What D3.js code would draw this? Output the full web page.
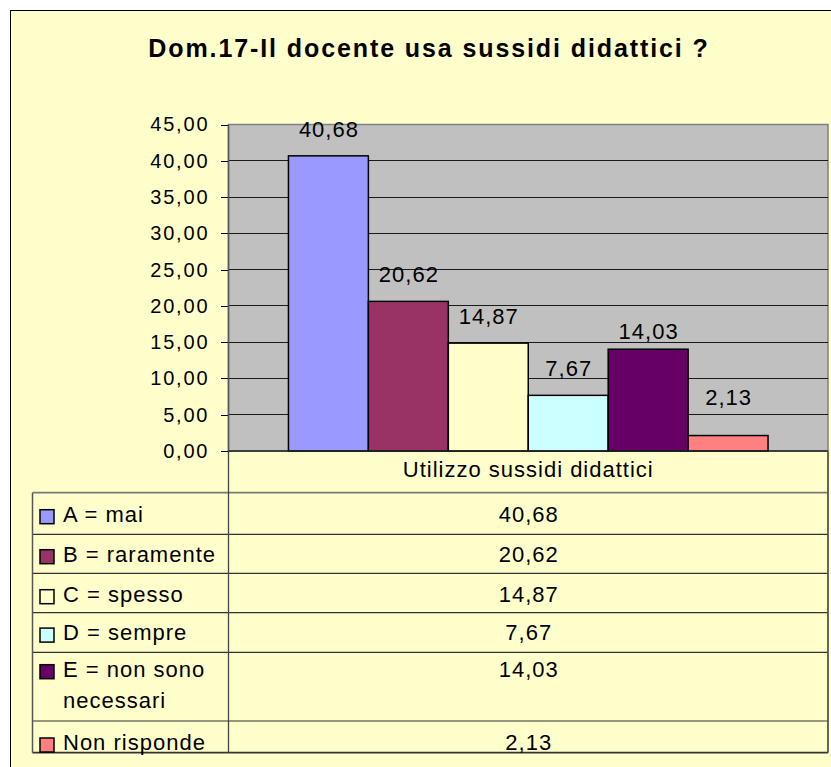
<!DOCTYPE html>
<html><head><meta charset="utf-8">
<script src="https://cdn.jsdelivr.net/npm/d3@7"></script>
<style>
html,body{margin:0;padding:0;background:#fff;}
svg{display:block;}
text{font-family:"Liberation Sans",Arial,Helvetica,sans-serif;fill:#000;}
</style></head><body>
<svg id="chart" width="831" height="767"></svg>
<script>
// ---- data ----
const chartTitle = "Dom.17-Il docente usa sussidi didattici ?";
const categories = ["Utilizzo sussidi didattici"];
const seriesNames = ["A = mai", "B = raramente", "C = spesso", "D = sempre", "E = non sono necessari", "Non risponde"];
const seriesValues = [40.68, 20.62, 14.87, 7.67, 14.03, 2.13];
const seriesColors = ["#9999FF", "#993366", "#FFFFCC", "#CCFFFF", "#660066", "#FF8080"];
const yTickValues = [0, 5, 10, 15, 20, 25, 30, 35, 40, 45];

// ---- layout ----
const plot = {left: 228.5, right: 828, top: 124.5, bottom: 451};
const table = {left: 32.5, col: 228.5, right: 828, top: 492.7};
const rowHeights = [41.6, 39, 39.4, 39.6, 68.7, 31.7];
const baseOffsets = [29, 27.4, 28.4, 27.4, 24.4, 29];
const lineH = 31.6;
const labelDy = [0, 0, 0, 0, 9, -12];

const locale = d3.formatLocale({decimal: ",", thousands: ".", grouping: [3], currency: ["€", ""]});
const fmt = locale.format(".2f");

const svg = d3.select("#chart");

// outer frame
svg.append("rect").attr("x", 10.5).attr("y", 10.5).attr("width", 900).attr("height", 900)
  .attr("fill", "#FFFFCC").attr("stroke", "#000").attr("stroke-width", 1);

// title
svg.append("text").attr("x", 429).attr("y", 56.7).attr("text-anchor", "middle")
  .style("font-size", "25px").style("font-weight", "bold").style("letter-spacing", "1.9px")
  .text(chartTitle);

// scales
const y = d3.scaleLinear().domain([0, 45]).range([plot.bottom, plot.top]);
const x0 = d3.scaleBand().domain(categories).range([plot.left, plot.right]).paddingInner(0).paddingOuter(0.125);
const x1 = d3.scaleBand().domain(seriesNames).range([0, x0.bandwidth()]);

// plot area
svg.append("rect").attr("x", plot.left).attr("y", plot.top)
  .attr("width", plot.right - plot.left).attr("height", plot.bottom - plot.top)
  .attr("fill", "#C0C0C0").attr("stroke", "#808080").attr("stroke-width", 1.5);

// gridlines
svg.append("g").selectAll("line").data(yTickValues.filter(v => v > 0 && v < 45)).join("line")
  .attr("x1", plot.left).attr("x2", plot.right)
  .attr("y1", d => y(d)).attr("y2", d => y(d))
  .attr("stroke", "#1a1a1a").attr("stroke-width", 1).attr("shape-rendering", "crispEdges");

// bars
const bars = svg.append("g");
seriesNames.forEach((name, i) => {
  const v = seriesValues[i];
  bars.append("rect")
    .attr("x", x0(categories[0]) + x1(name))
    .attr("y", y(v))
    .attr("width", x1.bandwidth())
    .attr("height", y(0) - y(v))
    .attr("fill", seriesColors[i])
    .attr("stroke", "#000").attr("stroke-width", 1.5);
  svg.append("text")
    .attr("x", x0(categories[0]) + x1(name) + x1.bandwidth() / 2 + 0.5)
    .attr("y", y(v) - 19 + labelDy[i])
    .attr("text-anchor", "middle")
    .style("font-size", "22px").style("letter-spacing", "1px")
    .text(fmt(v));
});

// y axis
const yAxis = d3.axisLeft(y).tickValues(yTickValues).tickSize(8).tickSizeOuter(0).tickPadding(11.2).tickFormat(fmt);
const ag = svg.append("g").attr("transform", `translate(${plot.left},0)`).call(yAxis);
ag.select(".domain").remove();
ag.selectAll(".tick line").attr("stroke", "#000").attr("shape-rendering", "crispEdges");
ag.selectAll(".tick text").style("font-size", "20px").style("letter-spacing", "1.8px")
  .style("font-family", "'Liberation Sans',Arial,sans-serif").attr("fill", "#000");

// axis lines
svg.append("line").attr("x1", plot.left).attr("x2", plot.left).attr("y1", plot.top).attr("y2", plot.bottom)
  .attr("stroke", "#555").attr("stroke-width", 1.5);
svg.append("line").attr("x1", plot.left).attr("x2", plot.right).attr("y1", plot.bottom).attr("y2", plot.bottom)
  .attr("stroke", "#222").attr("stroke-width", 1.5);

// data table
const rowTops = [table.top];
rowHeights.forEach((h, i) => rowTops.push(rowTops[i] + h));
const tableBottom = rowTops[rowTops.length - 1];

// header text (category)
svg.append("text").attr("x", (table.col + table.right) / 2).attr("y", 477.3)
  .attr("text-anchor", "middle").style("font-size", "22px").style("letter-spacing", "1px")
  .text(categories[0]);

const tg = svg.append("g");
rowTops.forEach((ty, i) => {
  tg.append("line").attr("x1", table.left).attr("x2", table.right).attr("y1", ty).attr("y2", ty)
    .attr("stroke", i === 0 ? "#777" : "#333").attr("stroke-width", i === 0 || i === rowTops.length - 1 ? 1.8 : 1.2);
});
tg.append("line").attr("x1", table.left).attr("x2", table.left).attr("y1", table.top).attr("y2", tableBottom)
  .attr("stroke", "#555").attr("stroke-width", 1.5);
tg.append("line").attr("x1", table.col).attr("x2", table.col).attr("y1", plot.bottom).attr("y2", tableBottom)
  .attr("stroke", "#444").attr("stroke-width", 1.3);
tg.append("line").attr("x1", table.right).attr("x2", table.right).attr("y1", plot.bottom).attr("y2", tableBottom)
  .attr("stroke", "#555").attr("stroke-width", 1.8);

// wrap helper
function wrapLines(str, maxW) {
  const probe = svg.append("text").style("font-size", "22px").style("letter-spacing", "1px");
  const words = str.split(" ");
  const lines = [];
  let cur = "";
  words.forEach(w => {
    const test = cur ? cur + " " + w : w;
    probe.text(test);
    if (probe.node().getComputedTextLength() > maxW && cur) { lines.push(cur); cur = w; }
    else cur = test;
  });
  if (cur) lines.push(cur);
  probe.remove();
  return lines;
}

seriesNames.forEach((name, i) => {
  const base = rowTops[i] + baseOffsets[i];
  tg.append("rect").attr("x", 40).attr("y", base - 12).attr("width", 14).attr("height", 14)
    .attr("fill", seriesColors[i]).attr("stroke", "#000").attr("stroke-width", 1.5);
  const lines = wrapLines(name, table.col - 63 - 4);
  const t = tg.append("text").attr("y", base).style("font-size", "22px").style("letter-spacing", "1px");
  lines.forEach((ln, k) => {
    t.append("tspan").attr("x", 63).attr("y", base + k * lineH).text(ln);
  });
  tg.append("text").attr("x", (table.col + table.right) / 2 + 0.5).attr("y", base)
    .attr("text-anchor", "middle").style("font-size", "22px").style("letter-spacing", "1px")
    .text(fmt(seriesValues[i]));
});
</script>
</body></html>
